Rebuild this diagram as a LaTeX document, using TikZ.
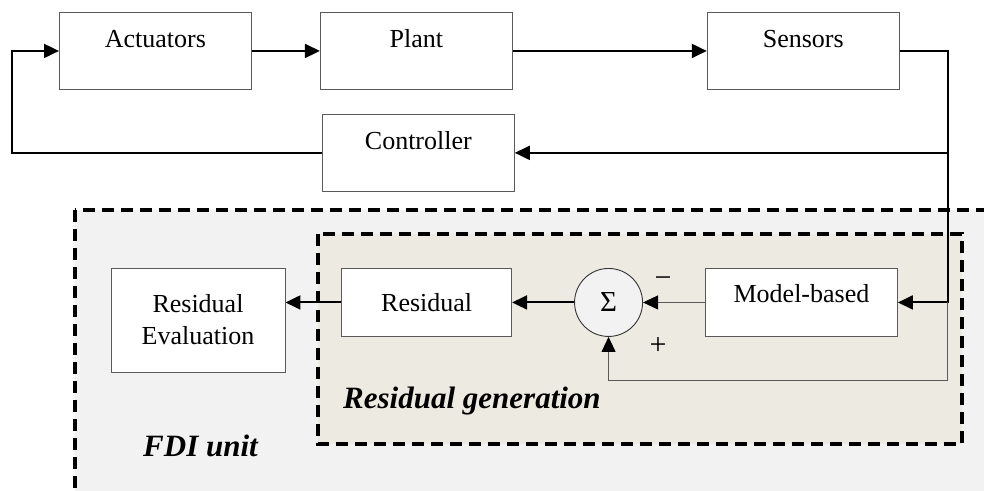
\documentclass[tikz,border=0pt]{standalone}
\usepackage{fontspec}
\setmainfont{Liberation Serif}
\usetikzlibrary{arrows.meta, positioning}
\definecolor{fdigray}{HTML}{F2F2F2}
\definecolor{gengray}{HTML}{EDEBE1}
\definecolor{boxline}{HTML}{5A5A5A}
\tikzstyle{block} = [rectangle, minimum width=192pt, minimum height=77pt, inner sep=0pt, text height=35pt, text depth=42pt, text centered, draw=boxline, line width=0.9pt, fill=white, font=\fontsize{26}{32}\selectfont]
\tikzstyle{cblock} = [rectangle, minimum height=68pt, inner sep=0pt, text centered, align=center, draw=boxline, line width=0.9pt, fill=white, font=\fontsize{26}{32}\selectfont]
\tikzstyle{sumnode} = [circle, minimum size=68pt, inner sep=0pt, draw=black!80, line width=0.9pt, fill=fdigray, font=\fontsize{29}{32}\selectfont]
\tikzstyle{sign} = [inner sep=0pt, font=\fontsize{30}{32}\selectfont]
\tikzstyle{groupbox} = [line width=4pt, dash pattern=on 12pt off 7pt]
\tikzstyle{grouptitle} = [inner sep=0pt, font=\fontsize{31}{36}\selectfont\bfseries\itshape]
\tikzstyle{arrow} = [line width=2pt, -{Triangle[length=15pt,width=14pt]}]
\tikzstyle{thinline} = [line width=0.9pt, draw=boxline]
\tikzstyle{thinarrow} = [thinline, -{Triangle[length=15pt,width=14pt,color=black]}]

\begin{document}
\begin{tikzpicture}[x=1pt, y=-1pt]
\useasboundingbox (0,0) rectangle (984,490);
\clip (0,0) rectangle (984,490);
% FDI unit and residual generation groups
\draw [groupbox, fill=fdigray] (75,210) rectangle (1010,520);
\draw [groupbox, fill=gengray] (318,234) rectangle (962,444);
\node (gentxt) [grouptitle, anchor=base west] at (343,408) {Residual generation};
\node (fditxt) [grouptitle, anchor=base west] at (143,456) {FDI unit};
% control loop
\node (act) [block, anchor=north west] at (59,12) {Actuators};
\node (plant) [block, right=68pt of act] {Plant};
\node (sens) [block, right=194pt of plant] {Sensors};
\node (ctrl) [block, below=24pt of plant, xshift=2pt] {Controller};
% residual generation
\node (model) [block, minimum height=68pt, text height=34pt, text depth=34pt, anchor=north west] at (705,268) {Model-based};
\node (sum) [sumnode, left=62pt of model] {Σ};
\node (res) [cblock, minimum width=170pt, left=62pt of sum] {Residual};
\node (eval) [cblock, minimum width=174pt, minimum height=104pt] at (198,320) {Residual\\Evaluation};
\node (minus) [sign] at (663,282) {−};
\node (plus) [sign] at (658,346) {+};
\draw [arrow] (act) -- (plant);
\draw [arrow] (plant) -- (sens);
\draw [arrow] (sens.east) -- ++(48,0) coordinate (tap) |- (model.east);
\draw [arrow] (tap |- ctrl.east) -- (ctrl.east);
\draw [arrow] (ctrl.west) -- ++(-310,0) |- (act.west);
\draw [thinarrow] (model.west) -- (sum.east);
\draw [thinarrow] (tap |- model.east) -- ++(0,78) -| (sum.south);
\draw [arrow] (sum) -- (res);
\draw [arrow] (res.west) -- (res.west -| eval.east);
\end{tikzpicture}
\end{document}
